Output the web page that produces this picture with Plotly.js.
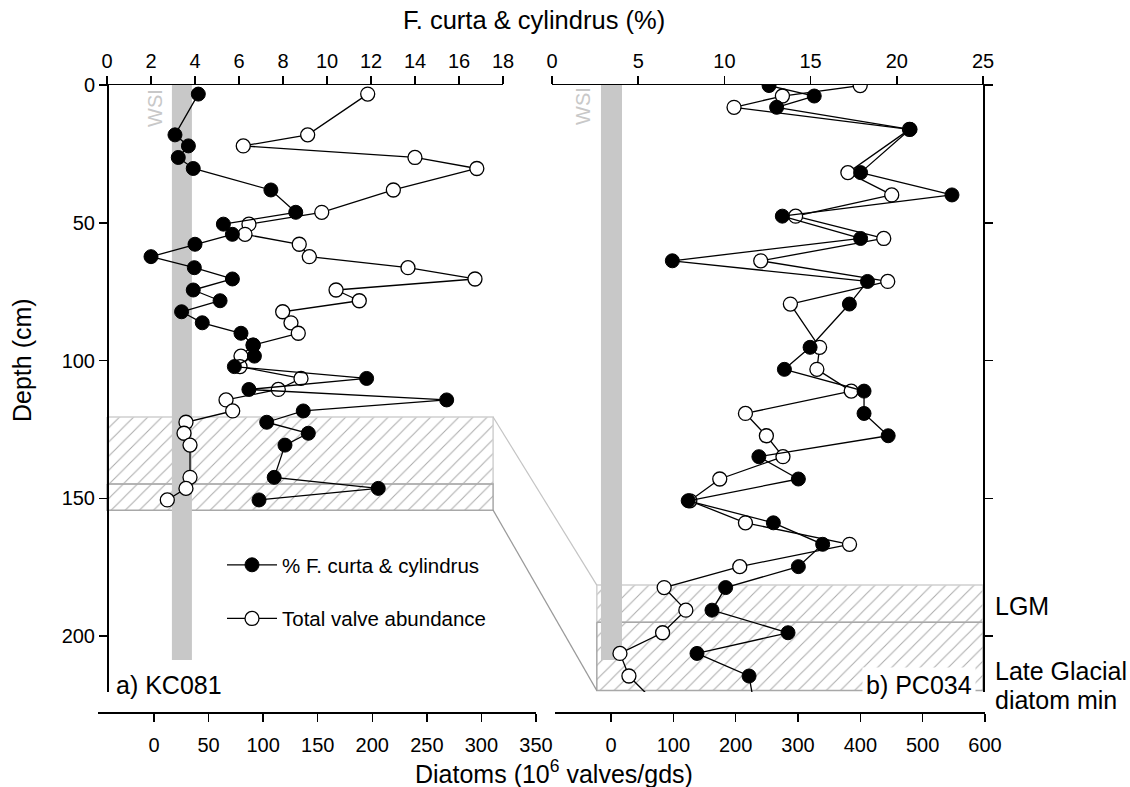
<!DOCTYPE html>
<html><head><meta charset="utf-8">
<script src="https://cdn.plot.ly/plotly-3.0.1.min.js"></script>
<style>html,body{margin:0;padding:0;background:#fff}#chart{width:1130px;height:787px}</style>
</head><body><div id="chart"></div>
<script>
// ---------------- DATA ----------------
// a) KC081
const depthA = [3.3,18.1,22.1,26.3,30.3,38.1,46.2,50.5,54.2,57.8,62.3,66.3,70.4,74.4,78.3,82.3,86.3,90.1,94.4,98.4,102.2,106.5,110.5,114.3,118.3,122.4,126.4,130.7,142.4,146.4,150.6];
const curtaA = [4.15,3.09,3.7,3.24,3.92,7.45,8.58,5.29,5.70,4.0,2.0,3.97,5.70,3.92,5.14,3.39,4.33,6.09,6.65,6.70,5.79,11.8,6.45,15.44,8.92,7.26,9.15,8.09,7.6,12.33,6.91];
const valvesA = [195.8,140.8,81.8,239.1,295.8,219.3,153.7,87.0,83.4,133.1,142.3,232.7,294.1,166.8,188.1,117.9,125.5,132.2,90.7,79.7,78.8,134.7,113.9,66.0,72.1,29.3,27.5,33.0,33.0,29.3,12.2];
// b) PC034
const depthB = [0.2,4,8.1,16.1,31.8,39.9,47.6,55.7,63.8,71.3,79.5,95.2,103.2,111.1,119.2,127.3,134.9,143,150.9,158.9,166.7,174.8,182.4,190.6,198.8,206.3,214.5,224];
const curtaB = [12.59,15.21,13.03,20.77,17.9,23.2,13.36,17.9,6.98,18.3,17.25,14.97,13.48,18.1,18.1,19.5,12.0,14.29,7.9,12.84,15.7,14.29,10.07,9.28,13.69,8.41,11.43,11.7];
const valvesB = [399.8,275,197.4,478.8,380,450.4,296.2,437.6,240.2,444,287.8,334.7,330.3,385.4,215.7,249.3,275.9,174.5,126.5,215.7,382.7,206.6,85.3,120.1,82.8,14.4,28.8,70.6];
// zones (depth, cm)
const zonesA = [120.5, 144.8, 154.3];
const zonesB = [181.5, 195.0, 219.8];
const zoneExtentA = [0, 17.55];   // in % units (top axis)
const zoneExtentB = [2.6, 25];
// WSI band (% units) and its depth extent
const wsiA = [2.95, 3.86];
const wsiB = [2.84, 4.06];
const wsiDepth = [0, 208.7];
// tick values
const ticksPctA = [0,2,4,6,8,10,12,14,16,18];
const ticksPctB = [0,5,10,15,20,25];
const ticksDiaA = [0,50,100,150,200,250,300,350];
const ticksDiaB = [0,100,200,300,400,500,600];
const ticksDepth = [0,50,100,150,200];

// ---------------- LAYOUT GEOMETRY (px) ----------------
const W = 1130, H = 787;
const FONT = 'Liberation Sans, Arial, Helvetica, sans-serif';
const px = v => v / W, py = v => 1 - v / H;
const G = {
  y:  {d0: 85,  d1: 692, r0: 0, r1: 220.3},
  x:  {d0: 98,  d1: 536, r0: -51.3, r1: 350},
  x2: {d0: 107, d1: 503, r0: 0, r1: 18},
  x3: {d0: 555, d1: 985, r0: -89.8, r1: 600},
  x4: {d0: 552, d1: 988, r0: 0, r1: 25.29}
};
const toPx = (a, v) => a.d0 + (v - a.r0) / (a.r1 - a.r0) * (a.d1 - a.d0);
const fromPx = (a, p) => a.r0 + (p - a.d0) / (a.d1 - a.d0) * (a.r1 - a.r0);
const pctToDiaA = v => fromPx(G.x, toPx(G.x2, v));
const pctToDiaB = v => fromPx(G.x3, toPx(G.x4, v));

const axBase = {
  showline: true, linecolor: '#000', linewidth: 1.5, mirror: false,
  ticks: 'outside', ticklen: 8, tickwidth: 1.5, tickcolor: '#000',
  showgrid: false, zeroline: false, fixedrange: true,
  tickfont: {family: FONT, size: 20, color: '#000'}
};

function box(xa, ya, x0, x1, y0, y1, lc) {
  return {type: 'scatter', mode: 'lines', xaxis: xa, yaxis: ya,
    x: [x0, x1, x1, x0, x0], y: [y0, y0, y1, y1, y0],
    fill: 'toself', fillcolor: 'rgba(0,0,0,0)',
    fillpattern: {shape: '/', fgcolor: '#ababab', bgcolor: 'rgba(255,255,255,0)', size: 10, solidity: 0.1},
    line: {color: lc, width: 1.5}, hoverinfo: 'skip', showlegend: false};
}
function band(xa, ya, x0, x1, y0, y1) {
  return {type: 'scatter', mode: 'lines', xaxis: xa, yaxis: ya,
    x: [x0, x1, x1, x0, x0], y: [y0, y0, y1, y1, y0],
    fill: 'toself', fillcolor: '#c8c8c8', line: {width: 0, color: 'rgba(0,0,0,0)'},
    hoverinfo: 'skip', showlegend: false};
}
const lineStyle = {color: '#000', width: 1.3};
const mkBlack = {size: 14, color: '#000', line: {color: '#000', width: 1}};
const mkWhite = {size: 14, color: '#fff', line: {color: '#000', width: 1.3}};

const exA = zoneExtentA.map(pctToDiaA);
const exB = zoneExtentB.map(pctToDiaB);

const traces = [
  box('x', 'y', exA[0], exA[1], zonesA[0], zonesA[1], '#d0d0d0'),
  box('x', 'y', exA[0], exA[1], zonesA[1], zonesA[2], '#a8a8a8'),
  band('x', 'y', pctToDiaA(wsiA[0]), pctToDiaA(wsiA[1]), wsiDepth[0], wsiDepth[1]),
  {type: 'scatter', mode: 'lines+markers', name: 'Total valve abundance', xaxis: 'x', yaxis: 'y',
   x: valvesA, y: depthA, line: lineStyle, marker: mkWhite, legendgroup: 'b', legendrank: 2},
  {type: 'scatter', mode: 'lines+markers', name: '% F. curta & cylindrus', xaxis: 'x2', yaxis: 'y',
   x: curtaA, y: depthA, line: lineStyle, marker: mkBlack, legendgroup: 'a', legendrank: 1},
  box('x3', 'y2', exB[0], exB[1], zonesB[0], zonesB[1], '#d0d0d0'),
  box('x3', 'y2', exB[0], exB[1], zonesB[1], zonesB[2], '#a8a8a8'),
  band('x3', 'y2', pctToDiaB(wsiB[0]), pctToDiaB(wsiB[1]), wsiDepth[0], wsiDepth[1]),
  {type: 'scatter', mode: 'lines+markers', name: 'Total valve abundance', xaxis: 'x3', yaxis: 'y2',
   x: valvesB, y: depthB, line: lineStyle, marker: mkWhite, showlegend: false},
  {type: 'scatter', mode: 'lines+markers', name: '% F. curta & cylindrus', xaxis: 'x4', yaxis: 'y2',
   x: curtaB, y: depthB, line: lineStyle, marker: mkBlack, showlegend: false}
];

// connectors between zoom boxes (paper coords)
const cx0 = px(toPx(G.x2, zoneExtentA[1]));
const cx1 = px(toPx(G.x4, zoneExtentB[0]));
const shapes = [
  {type: 'line', xref: 'paper', yref: 'paper', x0: cx0, x1: cx1,
   y0: py(toPx(G.y, zonesA[0])), y1: py(toPx(G.y, zonesB[0])), line: {color: '#c4c4c4', width: 1.2}},
  {type: 'line', xref: 'paper', yref: 'paper', x0: cx0, x1: cx1,
   y0: py(toPx(G.y, zonesA[2])), y1: py(toPx(G.y, zonesB[2])), line: {color: '#9a9a9a', width: 1.2}}
];

const ann = (text, x, y, o) => Object.assign({text, x: px(x), y: py(y), xref: 'paper', yref: 'paper',
  showarrow: false, font: {family: FONT, size: 25, color: '#000'}, xanchor: 'center', yanchor: 'middle'}, o || {});

const annotations = [
  ann('F. curta &amp; cylindrus (%)', 534, 20, {font: {family: FONT, size: 25.5, color: '#000'}}),
  ann('Diatoms (10<sup>6</sup> valves/gds)', 554, 772),
  ann('Depth (cm)', 22, 360, {textangle: -90}),
  ann('a) KC081', 114, 685, {xanchor: 'left'}),
  ann('b) PC034', 976, 685, {xanchor: 'right', bgcolor: '#fff', borderpad: 3}),
  ann('LGM', 993, 606, {xanchor: 'left'}),
  ann('Late Glacial', 993, 671, {xanchor: 'left'}),
  ann('diatom min', 993, 700, {xanchor: 'left'}),
  ann('WSI', 155, 108, {textangle: -90, font: {family: FONT, size: 20, color: '#c8c8c8'}}),
  ann('WSI', 583, 106, {textangle: -90, font: {family: FONT, size: 20, color: '#c8c8c8'}})
];

const layout = {
  width: W, height: H, autosize: false,
  margin: {l: 0, r: 0, t: 0, b: 0, pad: 0},
  paper_bgcolor: '#fff', plot_bgcolor: 'rgba(0,0,0,0)',
  font: {family: FONT, size: 20, color: '#000'},
  showlegend: true,
  legend: {x: px(222), y: py(545), xanchor: 'left', yanchor: 'top', bgcolor: 'rgba(0,0,0,0)',
           font: {family: FONT, size: 20.5, color: '#000'}, tracegroupgap: 24, traceorder: 'grouped', itemwidth: 50},
  xaxis: Object.assign({}, axBase, {domain: [px(G.x.d0), px(G.x.d1)], range: [G.x.r0, G.x.r1],
           anchor: 'free', position: py(712), side: 'bottom', tickmode: 'array', tickvals: ticksDiaA, ticklabelstandoff: 6}),
  xaxis2: Object.assign({}, axBase, {domain: [px(G.x2.d0), px(G.x2.d1)], range: [G.x2.r0, G.x2.r1],
           anchor: 'y', side: 'top', tickmode: 'array', tickvals: ticksPctA}),
  xaxis3: Object.assign({}, axBase, {domain: [px(G.x3.d0), px(G.x3.d1)], range: [G.x3.r0, G.x3.r1],
           anchor: 'free', position: py(712), side: 'bottom', tickmode: 'array', tickvals: ticksDiaB, ticklabelstandoff: 6}),
  xaxis4: Object.assign({}, axBase, {domain: [px(G.x4.d0), px(G.x4.d1)], range: [G.x4.r0, G.x4.r1],
           anchor: 'y2', side: 'top', tickmode: 'array', tickvals: ticksPctB}),
  yaxis: Object.assign({}, axBase, {domain: [py(G.y.d1), py(G.y.d0)], range: [G.y.r1, G.y.r0],
           anchor: 'free', position: px(107), side: 'left', tickmode: 'array', tickvals: ticksDepth}),
  yaxis2: Object.assign({}, axBase, {domain: [py(G.y.d1), py(G.y.d0)], range: [G.y.r1, G.y.r0],
           anchor: 'free', position: px(983), side: 'right', tickmode: 'array', tickvals: ticksDepth, showticklabels: false}),
  shapes, annotations
};

Plotly.newPlot('chart', traces, layout, {staticPlot: true, displayModeBar: false});
</script>
</body></html>
